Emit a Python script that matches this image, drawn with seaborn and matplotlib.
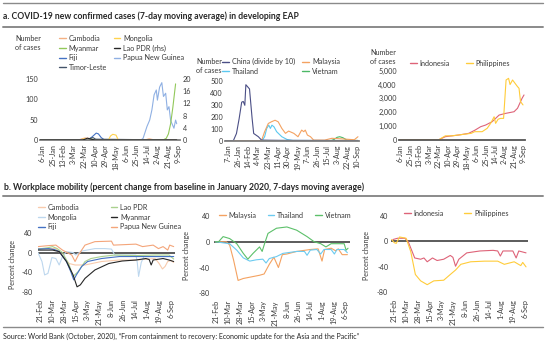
import matplotlib
matplotlib.use("Agg")
import matplotlib.pyplot as plt
from matplotlib.lines import Line2D
import pandas as pd
import seaborn as sns

sns.set_theme(style="white")
plt.rcParams['font.family'] = ['Lato', 'DejaVu Sans']
plt.rcParams['axes.unicode_minus'] = False

# ---------------- DATA ----------------
# Panel a1 (small EAP economies), number of cases
TICKS_A1 = ["6-Jan", "25-Jan", "13-Feb", "3-Mar", "22-Mar", "10-Apr", "29-Apr",
            "18-May", "6-Jun", "25-Jun", "14-Jul", "2-Aug", "21-Aug", "9-Sep"]
cambodia_a_d = ["01-02", "03-12", "03-18", "03-24", "03-30", "04-06", "04-15",
                "07-10", "07-18", "07-25", "09-06"]
cambodia_a_v = [0, 0, 3, 5, 4, 1, 0, 0, 3, 1, 0]
myanmar_a_d = ["01-02", "03-25", "04-05", "04-12", "08-12", "08-18", "08-22",
               "08-26", "08-30", "09-02", "09-04"]
myanmar_a_v = [0, 0, 2, 0, 0, 4, 15, 40, 80, 115, 138]
fiji_a_d = ["01-02", "03-28", "04-04", "04-09", "04-13", "04-17", "04-22", "04-28", "09-06"]
fiji_a_v = [0, 0, 6, 12, 17, 15, 6, 0, 0]
timor_a_d = ["01-02", "03-28", "04-02", "04-07", "04-12", "09-06"]
timor_a_v = [0, 0, 4, 6, 2, 0]
mongolia_a_d = ["01-02", "03-15", "03-22", "03-28", "05-05", "05-09", "05-13",
                "05-19", "05-23", "09-06"]
mongolia_a_v = [0, 0, 3, 1, 0, 10, 14, 12, 0, 0]
lao_a_d = ["01-02", "03-20", "03-28", "04-10", "09-06"]          # right axis
lao_a_v = [0, 0, 0.6, 0, 0]
png_a_d = ["01-02", "07-03", "07-07", "07-14", "07-19", "07-23", "07-27", "07-31",
           "08-02", "08-06", "08-10", "08-13", "08-17", "08-20", "08-23", "08-26",
           "09-01", "09-04", "09-06"]
png_a_v = [0, 0, 4, 33, 49, 74, 111, 123, 98, 130, 141, 107, 115, 74, 82, 48,
           29, 49, 40]

# Panel a2
TICKS_A2 = ["7-Jan", "26-Jan", "14-Feb", "4-Mar", "23-Mar", "11-Apr", "30-Apr",
            "19-May", "7-Jun", "26-Jun", "15-Jul", "3-Aug", "22-Aug", "10-Sep"]
china_d = ["01-01", "01-17", "01-23", "01-28", "02-02", "02-05", "02-08", "02-10",
           "02-14", "02-17", "02-22", "02-25", "03-05", "03-11", "03-25", "04-15", "09-12"]
china_v = [0, 0, 60, 180, 320, 326, 294, 465, 445, 430, 185, 60, 33, 5, 4, 3, 1]
malaysia_a_d = ["01-01", "03-11", "03-17", "03-24", "03-30", "04-06", "04-12", "04-19",
                "04-26", "05-02", "05-12", "05-20", "05-27", "05-31", "06-03", "06-07",
                "06-13", "06-19", "07-10", "07-24", "08-12", "09-05", "09-12"]
malaysia_a_v = [0, 0, 75, 143, 157, 170, 157, 102, 61, 80, 61, 33, 88, 75, 88, 47,
                33, 5, 5, 20, 15, 8, 33]
thailand_a_d = ["01-01", "03-12", "03-17", "03-21", "03-25", "03-28", "03-31", "04-04",
                "04-09", "04-19", "04-29", "05-10", "09-12"]
thailand_a_v = [0, 0, 33, 102, 129, 102, 129, 115, 75, 33, 10, 2, 1]
vietnam_a_d = ["01-01", "07-22", "07-28", "08-03", "08-08", "08-14", "08-22", "09-12"]
vietnam_a_v = [0, 0, 10, 28, 33, 25, 5, 2]

# Panel a3
TICKS_A3 = TICKS_A1
indonesia_a_d = ["01-03", "03-22", "04-05", "05-02", "05-22", "06-04", "06-15", "06-25",
                 "07-08", "07-15", "07-22", "08-04", "08-21", "08-28", "09-06", "09-10"]
indonesia_a_v = [0, 0, 240, 360, 480, 720, 960, 1080, 1320, 1560, 1800, 1920, 2040,
                 2290, 3000, 3250]
philippines_a_d = ["01-03", "03-22", "04-05", "04-18", "05-27", "06-03", "06-18", "06-28",
                   "07-05", "07-12", "07-15", "07-20", "07-25", "07-31", "08-05", "08-10",
                   "08-13", "08-18", "08-23", "08-28", "08-31", "09-03", "09-08"]
philippines_a_v = [0, 0, 300, 300, 480, 600, 600, 840, 1200, 1680, 1200, 1500, 1560,
                   1560, 4330, 4450, 4000, 4330, 4090, 3850, 3730, 2770, 2530]

# Panel b (workplace mobility, % change)
TICKS_B = ["21-Feb", "10-Mar", "28-Mar", "15-Apr", "3-May", "21-May", "8-Jun",
           "26-Jun", "14-Jul", "1-Aug", "19-Aug", "6-Sep"]
cambodia_b_d = ["02-18", "03-16", "03-26", "04-05", "04-14", "04-29", "05-24", "06-20",
                "07-15", "08-13", "08-19", "08-24", "08-28", "09-01", "09-06", "09-10"]
cambodia_b_v = [8, 8, -5, -22, -25, -25, -18, -15, -15, -12, -22, -33, -28, -18, -16, -20]
mongolia_b_d = ["02-18", "02-24", "02-28", "03-04", "03-10", "03-16", "03-21", "03-26",
                "04-01", "04-11", "04-15", "04-24", "05-14", "05-29", "06-08", "06-13",
                "07-15", "07-17", "07-19", "07-23", "07-27", "09-10"]
mongolia_b_v = [0, -18, -45, -42, -10, -12, -25, -8, 2, 0, -5, 3, 8, 8, 7, -5,
                -5, -20, -48, -20, -8, -8]
fiji_b_d = ["02-18", "03-05", "03-14", "03-21", "04-01", "04-08", "04-12", "04-16",
            "04-24", "05-03", "05-24", "06-20", "07-15", "09-10"]
fiji_b_v = [7, 8, 6, 2, -18, -40, -55, -45, -28, -18, -12, -8, -8, -8]
lao_b_d = ["02-18", "03-05", "03-11", "03-18", "03-26", "04-05", "04-11", "04-19",
           "04-29", "05-08", "05-24", "06-13", "07-15", "08-13", "09-03", "09-10"]
lao_b_v = [7, 10, 12, 8, 0, -25, -48, -38, -18, -12, -8, -5, -6, -5, -5, -13]
myanmar_b_d = ["02-18", "03-11", "03-21", "04-01", "04-11", "04-17", "04-22", "04-29",
               "05-14", "06-04", "06-24", "07-15", "07-30", "08-04", "08-07", "08-10",
               "08-25", "09-03", "09-10"]
myanmar_b_v = [5, 5, 2, -18, -45, -69, -65, -52, -35, -22, -17, -15, -12, -14, -25,
               -15, -12, -15, -18]
png_b_d = ["02-18", "03-05", "03-16", "03-26", "04-09", "04-14", "04-19", "04-29",
           "05-14", "06-08", "06-11", "07-15", "07-25", "08-10", "08-18", "08-25",
           "09-01", "09-04", "09-10"]
png_b_v = [12, 14, 15, 5, -5, -18, -5, 15, 22, 23, 15, 17, 12, 15, 8, 12, 5, 15, 12]

malaysia_b_d = ["02-19", "03-07", "03-12", "03-18", "03-25", "04-02", "04-27", "05-04",
                "05-12", "05-19", "05-26", "06-01", "06-08", "06-23", "07-14", "07-26",
                "08-01", "08-05", "08-15", "08-22", "08-26", "09-01", "09-09"]
malaysia_b_v = [0, 0, -5, -28, -60, -57, -52, -50, -35, -24, -40, -20, -19, -15, -12,
                -11, -30, -12, -10, -14, -11, -20, -20]
thailand_b_d = ["02-19", "03-12", "03-23", "04-02", "04-12", "04-22", "05-02", "05-07",
                "05-12", "05-23", "06-02", "06-23", "07-05", "07-09", "07-14", "07-24",
                "07-30", "08-04", "08-15", "08-20", "08-24", "09-04", "09-09"]
thailand_b_v = [0, -3, -13, -25, -30, -28, -27, -33, -26, -23, -18, -15, -15, -21, -13,
                -12, -19, -12, -12, -19, -12, -12, -17]
vietnam_b_d = ["02-19", "02-24", "03-02", "03-12", "03-23", "04-02", "04-09", "04-17",
               "04-27", "05-01", "05-05", "05-10", "05-23", "06-08", "06-23", "07-09",
               "07-20", "07-30", "08-07", "08-15", "09-04", "09-07", "09-10"]
vietnam_b_v = [0, 0, 8, 5, -3, -18, -27, -18, -8, -15, -2, 13, 21, 23, 18, 8, 0, -3,
               -8, -3, -3, -13, -10]

indonesia_b_d = ["02-19", "02-26", "03-08", "03-13", "03-23", "04-01", "04-06", "04-11",
                 "04-19", "04-26", "05-06", "05-16", "05-20", "05-24", "05-29", "06-10",
                 "06-30", "07-20", "07-27", "07-31", "08-04", "08-19", "08-24", "08-28",
                 "09-08"]
indonesia_b_v = [3, 5, 5, 0, -26, -28, -26, -32, -26, -30, -28, -22, -25, -39, -28, -18,
                 -15, -14, -15, -23, -15, -15, -26, -15, -18]
philippines_b_d = ["02-17", "02-21", "02-24", "02-29", "03-10", "03-17", "03-24", "04-01",
                   "04-11", "04-21", "05-06", "05-16", "05-24", "06-01", "06-16", "07-07",
                   "07-27", "08-06", "08-21", "08-31", "09-03", "09-08"]
philippines_b_v = [3, -2, -3, 7, 5, -16, -52, -62, -68, -62, -61, -52, -45, -36, -32, -31,
                   -31, -36, -32, -38, -33, -40]

# ---------------- STYLE ----------------
W, H = 546, 346
FS = 5.2
TXT = "#3a3a3a"
RULE = "#8a8a8a"

fig = plt.figure(figsize=(W / 100, H / 100), dpi=100)


def fx(x):
    return x / W


def fy(y):
    return 1 - y / H


def add_ax(x0, y0, x1, y1):
    return fig.add_axes([fx(x0), fy(y1), (x1 - x0) / W, (y1 - y0) / H])


def to_dates(md):
    return pd.to_datetime(["2020-" + d for d in md])


def tick_dates(labels):
    return pd.to_datetime([t + "-2020" for t in labels], format="%d-%b-%Y")


def long_df(series):
    frames = []
    for name, (d, v) in series.items():
        frames.append(pd.DataFrame({"date": to_dates(d), "value": v, "country": name}))
    return pd.concat(frames, ignore_index=True)


def style_ax(ax, labels, xlim, bottom_spine=True, pad_x=3):
    for s in ["top", "right", "left"]:
        ax.spines[s].set_visible(False)
    if bottom_spine:
        ax.spines["bottom"].set_visible(True)
        ax.spines["bottom"].set_color("#7f7f7f")
        ax.spines["bottom"].set_linewidth(1.3)
    else:
        ax.spines["bottom"].set_visible(False)
    ax.set_xticks(tick_dates(labels))
    ax.set_xticklabels(labels, rotation=90)
    ax.set_xlim(pd.Timestamp(xlim[0]), pd.Timestamp(xlim[1]))
    ax.tick_params(axis="both", length=0, labelsize=FS, colors=TXT)
    ax.tick_params(axis="x", pad=pad_x)
    ax.tick_params(axis="y", pad=1.5)
    ax.set_xlabel("")
    ax.set_ylabel("")
    ax.grid(False)
    ax.set_facecolor("none")


def legend(ax, names, colors, x, y, ncol, colsp, lsp=0.35):
    handles = [Line2D([0], [0], color=colors[n], lw=1.0) for n in names]
    ax.legend(handles, names, loc="upper left", bbox_to_anchor=(fx(x), fy(y)),
              bbox_transform=fig.transFigure, ncol=ncol, frameon=False,
              fontsize=FS, handlelength=0.9, handletextpad=0.45,
              columnspacing=colsp, borderpad=0, borderaxespad=0,
              labelspacing=lsp, labelcolor=TXT)


LW = 0.8

# ---------- a1 ----------
pal_a1 = {"Cambodia": "#F4B183", "Myanmar": "#92C85A", "Fiji": "#4472C4",
          "Timor-Leste": "#44546A", "Mongolia": "#FFD34E", "Lao PDR (rhs)": "#262626",
          "Papua New Guinea": "#8FB0E3"}
ax1 = add_ax(40, 79, 180, 140)
df_a1 = long_df({"Cambodia": (cambodia_a_d, cambodia_a_v),
                 "Fiji": (fiji_a_d, fiji_a_v),
                 "Timor-Leste": (timor_a_d, timor_a_v),
                 "Mongolia": (mongolia_a_d, mongolia_a_v),
                 "Papua New Guinea": (png_a_d, png_a_v),
                 "Myanmar": (myanmar_a_d, myanmar_a_v)})
sns.lineplot(data=df_a1, x="date", y="value", hue="country", palette=pal_a1,
             estimator=None, lw=LW, ax=ax1, legend=False)
ax1b = ax1.twinx()
df_lao = long_df({"Lao PDR (rhs)": (lao_a_d, lao_a_v)})
sns.lineplot(data=df_lao, x="date", y="value", hue="country", palette=pal_a1,
             estimator=None, lw=LW, ax=ax1b, legend=False)
style_ax(ax1, TICKS_A1, ("2020-01-02", "2020-09-12"))
ax1.set_ylim(0, 150)
ax1.set_yticks([0, 50, 100, 150])
ax1b.set_ylim(0, 20)
ax1b.set_yticks([0, 4, 8, 12, 16, 20])
for s in ax1b.spines.values():
    s.set_visible(False)
ax1b.tick_params(axis="y", length=0, labelsize=FS, colors=TXT, pad=2)
ax1b.set_ylabel("")
ax1b.grid(False)
legend(ax1, ["Cambodia", "Myanmar", "Fiji", "Timor-Leste", "Mongolia",
             "Lao PDR (rhs)", "Papua New Guinea"], pal_a1, 59, 35, 2, 0.9)
fig.text(fx(15), fy(35), "Number\nof cases", fontsize=FS, color=TXT, va="top",
         ha="left", linespacing=1.4)

# ---------- a2 ----------
pal_a2 = {"China (divide by 10)": "#4B4F86", "Thailand": "#5BC8F0",
          "Malaysia": "#F4A261", "Vietnam": "#4CB866"}
ax2 = add_ax(225, 80.5, 359, 140.7)
df_a2 = long_df({"Vietnam": (vietnam_a_d, vietnam_a_v),
                 "Thailand": (thailand_a_d, thailand_a_v),
                 "Malaysia": (malaysia_a_d, malaysia_a_v),
                 "China (divide by 10)": (china_d, china_v)})
sns.lineplot(data=df_a2, x="date", y="value", hue="country", palette=pal_a2,
             estimator=None, lw=LW, ax=ax2, legend=False)
style_ax(ax2, TICKS_A2, ("2020-01-01", "2020-09-14"))
ax2.set_ylim(0, 500)
ax2.set_yticks([0, 100, 200, 300, 400, 500])
legend(ax2, ["China (divide by 10)", "Thailand", "Malaysia", "Vietnam"], pal_a2,
       222, 58, 2, 1.0)
fig.text(fx(196), fy(58), "Number\nof cases", fontsize=FS, color=TXT, va="top",
         ha="left", linespacing=1.4)

# ---------- a3 ----------
pal_a3 = {"Indonesia": "#DE6378", "Philippines": "#FFCC3A"}
ax3 = add_ax(399, 70.7, 525, 140)
df_a3 = long_df({"Indonesia": (indonesia_a_d, indonesia_a_v),
                 "Philippines": (philippines_a_d, philippines_a_v)})
sns.lineplot(data=df_a3, x="date", y="value", hue="country", palette=pal_a3,
             estimator=None, lw=LW, ax=ax3, legend=False)
style_ax(ax3, TICKS_A3, ("2020-01-03", "2020-09-12"))
ax3.spines["bottom"].set_color("#555555")
ax3.set_ylim(0, 5000)
ax3.set_yticks([0, 1000, 2000, 3000, 4000, 5000])
ax3.set_yticklabels(["0", "1,000", "2,000", "3,000", "4,000", "5,000"])
legend(ax3, ["Indonesia", "Philippines"], pal_a3, 410, 60, 2, 2.2)
fig.text(fx(370), fy(49), "Number\nof cases", fontsize=FS, color=TXT, va="top",
         ha="left", linespacing=1.4)

# ---------- b1 ----------
pal_b1 = {"Cambodia": "#F8CBAD", "Mongolia": "#BDD7EE", "Fiji": "#4472C4",
          "Lao PDR": "#A9D18E", "Myanmar": "#262626", "Papua New Guinea": "#F4A57A"}
bx1 = add_ax(38, 232.7, 175, 292.3)
bx1.axhline(0, color="#404040", lw=1.2, zorder=1)
df_b1 = long_df({"Cambodia": (cambodia_b_d, cambodia_b_v),
                 "Mongolia": (mongolia_b_d, mongolia_b_v),
                 "Papua New Guinea": (png_b_d, png_b_v),
                 "Lao PDR": (lao_b_d, lao_b_v),
                 "Fiji": (fiji_b_d, fiji_b_v),
                 "Myanmar": (myanmar_b_d, myanmar_b_v)})
sns.lineplot(data=df_b1, x="date", y="value", hue="country", palette=pal_b1,
             estimator=None, lw=LW, ax=bx1, legend=False)
style_ax(bx1, TICKS_B, ("2020-02-18", "2020-09-12"), bottom_spine=False, pad_x=5)
bx1.set_ylim(-80, 40)
bx1.set_yticks([-80, -40, 0, 40])
bx1.tick_params(axis="y", pad=4)
legend(bx1, ["Cambodia", "Mongolia", "Fiji", "Lao PDR", "Myanmar", "Papua New Guinea"],
       pal_b1, 38, 204, 2, 4.3)
fig.text(fx(13), fy(264), "Percent change", fontsize=FS, color=TXT, rotation=90,
         ha="center", va="center")

# ---------- b2 ----------
pal_b2 = {"Malaysia": "#F4A261", "Thailand": "#6CCBF0", "Vietnam": "#5CC06A"}
bx2 = add_ax(214, 216, 350, 293.3)
bx2.axhline(0, color="#404040", lw=1.2, zorder=1)
df_b2 = long_df({"Malaysia": (malaysia_b_d, malaysia_b_v),
                 "Thailand": (thailand_b_d, thailand_b_v),
                 "Vietnam": (vietnam_b_d, vietnam_b_v)})
sns.lineplot(data=df_b2, x="date", y="value", hue="country", palette=pal_b2,
             estimator=None, lw=LW, ax=bx2, legend=False)
style_ax(bx2, TICKS_B, ("2020-02-17", "2020-09-13"), bottom_spine=False, pad_x=5)
bx2.set_ylim(-80, 40)
bx2.set_yticks([-80, -40, 0, 40])
bx2.tick_params(axis="y", pad=3)
legend(bx2, ["Malaysia", "Thailand", "Vietnam"], pal_b2, 219, 212, 3, 1.5)
fig.text(fx(187), fy(255), "Percent change", fontsize=FS, color=TXT, rotation=90,
         ha="center", va="center")

# ---------- b3 ----------
pal_b3 = {"Indonesia": "#DE6378", "Philippines": "#FFCC3A"}
bx3 = add_ax(391, 216, 528, 292.3)
bx3.axhline(0, color="#404040", lw=1.2, zorder=1)
df_b3 = long_df({"Indonesia": (indonesia_b_d, indonesia_b_v),
                 "Philippines": (philippines_b_d, philippines_b_v)})
sns.lineplot(data=df_b3, x="date", y="value", hue="country", palette=pal_b3,
             estimator=None, lw=LW, ax=bx3, legend=False)
style_ax(bx3, TICKS_B, ("2020-02-16", "2020-09-11"), bottom_spine=False, pad_x=5)
bx3.set_ylim(-80, 40)
bx3.set_yticks([-80, -40, 0, 40])
bx3.tick_params(axis="y", pad=2)
legend(bx3, ["Indonesia", "Philippines"], pal_b3, 404, 210, 2, 2.8)
fig.text(fx(366), fy(255), "Percent change", fontsize=FS, color=TXT, rotation=90,
         ha="center", va="center")

# ---------- titles, rules, source ----------
for y, lw in [(3, 1.0), (27, 1.4), (196, 1.4), (327, 1.0)]:
    fig.add_artist(Line2D([fx(3), fx(543)], [fy(y), fy(y)], transform=fig.transFigure,
                          color=RULE, lw=lw))
fig.text(fx(3), fy(16.5), "a. COVID-19 new confirmed cases (7-day moving average) in developing EAP",
         fontsize=6.2, fontweight="bold", color="#262626", va="center", ha="left")
fig.text(fx(4), fy(187.5), "b. Workplace mobility (percent change from baseline in January 2020, 7-days moving average)",
         fontsize=6.2, fontweight="bold", color="#262626", va="center", ha="left")
fig.text(fx(3), fy(336), "Source: World Bank (October, 2020), \u201cFrom containment to recovery: Economic update for the Asia and the Pacific\u201d",
         fontsize=5.0, color="#262626", va="center", ha="left")

fig.savefig("out.png", dpi=100)
